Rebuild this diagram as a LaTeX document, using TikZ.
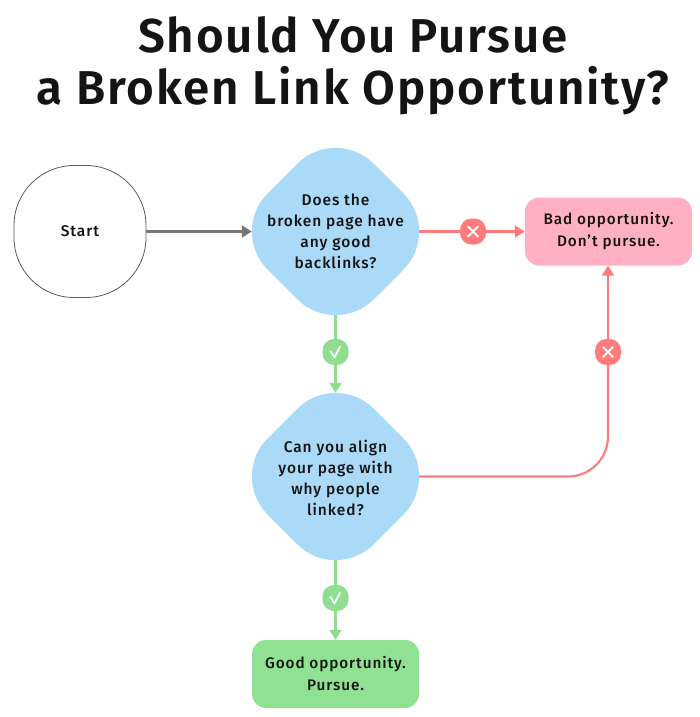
\documentclass[tikz,border=0pt]{standalone}
\usepackage{fontspec}
\setmainfont{Fira Sans}
\newfontfamily\titlefont[LetterSpace=4]{Fira Sans SemiBold}
\newfontfamily\labelfont[LetterSpace=6]{Fira Sans Medium}
\usetikzlibrary{arrows.meta}
\definecolor{inkc}{HTML}{141414}
\definecolor{blueq}{HTML}{ABD9F8}
\definecolor{pinkb}{HTML}{FFB0C3}
\definecolor{greenb}{HTML}{90E191}
\definecolor{redl}{HTML}{FF7A7A}
\definecolor{greenl}{HTML}{8FDE90}
\definecolor{grayl}{HTML}{767676}
\tikzset{
  lbl/.style={font=\labelfont\fontsize{15.5}{21}\selectfont,text=inkc,align=center,inner sep=0pt},
  qbox/.style={lbl,minimum width=167pt,minimum height=167pt},
  qshape/.style={fill=blueq,rounded corners=54pt},
  endbox/.style={lbl,font=\labelfont\fontsize{15.3}{22}\selectfont,minimum width=167pt,minimum height=68pt,rounded corners=14pt},
  badge/.style={minimum size=26pt,inner sep=0pt,rounded corners=11.5pt},
  tip/.style={-{Triangle[length=10pt,width=12pt]}},
  mark line/.style={white,line width=1.8pt,line cap=round,line join=round},
  redc/.style={redl,line width=2.1pt},
  greenc/.style={greenl,line width=2.1pt}
}
\begin{document}
\begin{tikzpicture}[x=1pt,y=-1pt]
\useasboundingbox (0,0) rectangle (700,717);
\node[font=\titlefont\fontsize{47.5}{52.5}\selectfont,text=inkc,align=center,inner sep=0pt] (title) at (353,65.5) {Should You Pursue\\a Broken Link Opportunity?};
% question shapes
\fill[qshape] (335.5,125.5) -- (441.5,231.5) -- (335.5,337.5) -- (229.5,231.5) -- cycle;
\fill[qshape] (335.5,370.5) -- (441.5,476.5) -- (335.5,582.5) -- (229.5,476.5) -- cycle;
% nodes
\node[lbl,draw=inkc!70,line width=0.8pt,minimum size=132pt,rounded corners=60pt] (start) at (80,231.5) {Start};
\node[qbox] (q1) at (335.5,231.5) {Does the\\broken page have\\any good\\backlinks?};
\node[qbox] (q2) at (335.5,476.5) {\rule{0pt}{15pt}Can you align\\your page with\\why people\\linked?};
\node[endbox,fill=pinkb] (bad) at (608.5,231.5) {Bad opportunity.\\Don’t pursue.};
\node[endbox,fill=greenb] (good) at (335.5,674) {Good opportunity.\\Pursue.};
\node[badge,fill=greenl] (yes1) at (335.5,352) {};
\node[badge,fill=greenl] (yes2) at (335.5,598) {};
\node[badge,fill=redl] (no1) at (473,231.5) {};
\node[badge,fill=redl] (no2) at (608,352) {};
% connectors
\draw[grayl,line width=2.1pt,tip] (start.east) -- (q1.west);
\draw[redc] (q1.east) -- (no1.west);
\draw[redc,tip] (no1.east) -- (bad.west);
\draw[greenc] (q1.south) -- (yes1.north);
\draw[greenc,tip] (yes1.south) -- (q2.north);
\draw[greenc] (q2.south) -- (yes2.north);
\draw[greenc,tip] (yes2.south) -- (good.north);
\draw[redc,rounded corners=40pt] (q2.east) -| (no2.south);
\draw[redc,tip] (no2.north) -- (bad.south -| no2.north);
% badge marks
\foreach \b in {yes1,yes2}
  \draw[mark line] (\b.center) ++(-5,-1) -- ++(4,6.5) -- ++(5.5,-11);
\foreach \b in {no1,no2}{
  \draw[mark line] (\b.center) ++(-5,-5) -- ++(10,10);
  \draw[mark line] (\b.center) ++(5,-5) -- ++(-10,10);
}
\end{tikzpicture}
\end{document}
